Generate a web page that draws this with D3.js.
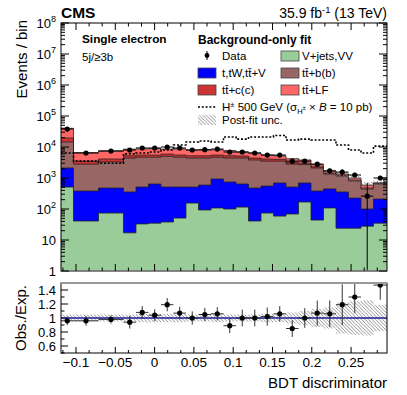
<!DOCTYPE html>
<html lang="en">
<head>
<meta charset="utf-8" />
<script src="https://cdn.jsdelivr.net/npm/d3@7"></script>
<style>
    body { margin: 0; background: #fff; }
    text { font-family: "Liberation Sans", Arial, Helvetica, sans-serif; fill: #000; }
</style>
</head>
<body>
<script>
    // bin edges (BDT discriminator), 24 bins, first few merged
    var edges = [-0.1191, -0.1032, -0.0714, -0.0396, -0.0237, -0.0078, 0.0081, 0.0240, 0.0399, 0.0559,
                 0.0718, 0.0877, 0.1036, 0.1195, 0.1354, 0.1513, 0.1672, 0.1831, 0.1990, 0.2149,
                 0.2308, 0.2467, 0.2626, 0.2785, 0.2957];

    // post-fit backgrounds, events per bin
    var vjets  = [510, 41, 74, 17, 33, 35, 38, 51, 155, 93, 108, 100, 115, 41, 74, 59, 69, 168, 44, 108, 24, 24, 28, 35];
    var single = [1590, 339, 401, 338, 477, 605, 472, 459, 355, 497, 822, 645, 525, 434, 476, 631, 441, 522, 336, 337, 331, 201, 72, 175];
    var ttbb   = [12400, 2420, 2825, 4045, 4190, 4060, 4490, 4190, 3890, 3810, 3770, 3655, 3760, 3325, 2950, 2810, 2290, 2010, 1720, 895, 795, 575, 340, 430];
    var ttcc   = [5000, 700, 800, 800, 800, 800, 900, 800, 800, 800, 800, 800, 700, 600, 600, 500, 400, 300, 200, 110, 80, 60, 40, 30];
    var ttlf   = [20500, 3100, 3400, 3300, 3200, 3400, 2600, 3200, 2800, 2700, 2600, 2500, 1800, 2000, 1400, 1200, 1000, 800, 400, 200, 120, 140, 110, 30];

    var dataObs = [38000, 6400, 7400, 8000, 9300, 9300, 10000, 9300, 8000, 8200, 8600, 6900, 6900, 6400, 5500, 5500, 3500, 3500, 2800, 1700, 1550, 1250, 260, 1000];
    var ratioObs = [0.96, 0.96, 0.98, 0.94, 1.08, 1.04, 1.19, 1.07, 1.0, 1.05, 1.06, 0.89, 1.0, 1.0, 1.02, 1.06, 0.85, 1.0, 1.07, 1.06, 1.19, 1.30, 0.44, 1.47];
    var ratioErr = [0.06, 0.07, 0.06, 0.09, 0.09, 0.085, 0.095, 0.09, 0.095, 0.095, 0.095, 0.105, 0.12, 0.12, 0.13, 0.11, 0.12, 0.14, 0.18, 0.19, 0.29, 0.23, 0.73, 0.21];
    var postFitUnc = [0.05, 0.05, 0.05, 0.05, 0.06, 0.06, 0.06, 0.06, 0.05, 0.05, 0.06, 0.05, 0.05, 0.05, 0.06, 0.06, 0.08, 0.10, 0.13, 0.15, 0.22, 0.24, 0.25, 0.19];

    // H+ 500 GeV signal
    var hplus = [6400, 3500, 3000, 6000, 6400, 6900, 8000, 11600, 14500, 15600, 14500, 21000, 18000, 21000, 21000, 23500, 16800, 18000, 16800, 16800, 11600, 8000, 6400, 10700];

    var xTicks = [-0.1, -0.05, 0, 0.05, 0.1, 0.15, 0.2, 0.25];
    var xTickLabels = ["\u22120.1", "\u22120.05", "0", "0.05", "0.1", "0.15", "0.2", "0.25"];
    var yExps = [0, 1, 2, 3, 4, 5, 6, 7, 8];
    var rTicks = [0.6, 0.8, 1, 1.2, 1.4];
    var rTickLabels = ["0.6", "0.8", "1", "1.2", "1.4"];

    var L = 61, R = 387, T = 23, B = 271, RT = 283, RB = 353;

    var svg = d3.select("body").append("svg").attr("width", 407).attr("height", 395);

    var x = d3.scaleLinear().domain([edges[0], edges[edges.length - 1]]).range([L, R]);
    var y = d3.scaleLog().domain([1, 1e8]).range([B, T]).clamp(true);
    var yr = d3.scaleLinear().domain([0.5, 1.5]).range([RB, RT]);

    var defs = svg.append("defs");
    defs.append("pattern").attr("id", "hatch").attr("patternUnits", "userSpaceOnUse")
        .attr("width", 3.5).attr("height", 3.5)
        .append("path").attr("d", "M-1,-1 L4.5,4.5 M-1,2.5 L1,4.5 M2.5,-1 L4.5,1")
        .attr("stroke", "#777").attr("stroke-width", 0.8);
    defs.append("clipPath").attr("id", "clipMain").append("rect")
        .attr("x", L).attr("y", T).attr("width", R - L).attr("height", B - T);
    defs.append("clipPath").attr("id", "clipRatio").append("rect")
        .attr("x", L).attr("y", RT).attr("width", R - L).attr("height", RB - RT);

    function steps(vals, sc) {
        var p = [];
        vals.forEach(function (v, i) {
            p.push([x(edges[i]), sc(v)]);
            p.push([x(edges[i + 1]), sc(v)]);
        });
        return p;
    }
    function band(lo, hi, sc) {
        var p = [];
        lo.forEach(function (v, i) {
            p.push({ x: x(edges[i]), a: sc(v), b: sc(hi[i]) });
            p.push({ x: x(edges[i + 1]), a: sc(v), b: sc(hi[i]) });
        });
        return p;
    }

    // ---- stack ----
    var layers = [
        { vals: vjets, color: "#99cc99" },
        { vals: single, color: "#0000ff" },
        { vals: ttbb, color: "#996666" },
        { vals: ttcc, color: "#cc3333" },
        { vals: ttlf, color: "#ff6666" }
    ];
    var run = vjets.map(function () { return 0; });
    layers.forEach(function (l) {
        run = run.map(function (r, i) { return r + l.vals[i]; });
        l.cum = run.slice();
    });
    var total = run;

    var main = svg.append("g").attr("clip-path", "url(#clipMain)");
    var area = d3.area().x(function (d) { return d[0]; }).y0(B).y1(function (d) { return d[1]; });
    var line = d3.line();
    layers.slice().reverse().forEach(function (l) {
        var pts = steps(l.cum, y);
        main.append("path").attr("d", area(pts)).attr("fill", l.color);
        main.append("path").attr("d", line(pts)).attr("fill", "none").attr("stroke", "#222").attr("stroke-width", 0.8);
    });

    // post-fit uncertainty on the stack
    var bandArea = d3.area().x(function (d) { return d.x; }).y0(function (d) { return d.a; }).y1(function (d) { return d.b; });
    main.append("path")
        .attr("d", bandArea(band(total.map(function (t, i) { return t * (1 - postFitUnc[i]); }),
                                 total.map(function (t, i) { return t * (1 + postFitUnc[i]); }), y)))
        .attr("fill", "url(#hatch)");

    // signal
    main.append("path").attr("d", line(steps(hplus, y)))
        .attr("fill", "none").attr("stroke", "#000").attr("stroke-width", 1.6).attr("stroke-dasharray", "2,1.8");

    // data
    var dg = main.append("g");
    dataObs.forEach(function (d, i) {
        var cx = x((edges[i] + edges[i + 1]) / 2);
        var rel = ratioErr[i] / ratioObs[i];
        var lo = d * (1 - rel), hi = d * (1 + rel);
        dg.append("line").attr("x1", x(edges[i])).attr("x2", x(edges[i + 1]))
            .attr("y1", y(d)).attr("y2", y(d)).attr("stroke", "#000").attr("stroke-width", 1);
        dg.append("line").attr("x1", cx).attr("x2", cx)
            .attr("y1", lo > 1 ? y(lo) : B).attr("y2", y(hi)).attr("stroke", "#000").attr("stroke-width", 1);
        dg.append("circle").attr("cx", cx).attr("cy", y(d)).attr("r", 2.6).attr("fill", "#000");
    });

    // ---- main frame and axes ----
    svg.append("rect").attr("x", L).attr("y", T).attr("width", R - L).attr("height", B - T)
        .attr("fill", "none").attr("stroke", "#000").attr("stroke-width", 1);
    svg.append("line").attr("x1", L).attr("x2", R).attr("y1", B).attr("y2", B).attr("stroke", "#888").attr("stroke-width", 1.6);

    var ax = svg.append("g").attr("stroke", "#000").attr("stroke-width", 1);
    yExps.forEach(function (e) {
        var v = Math.pow(10, e);
        ax.append("line").attr("x1", L).attr("x2", L + 8).attr("y1", y(v)).attr("y2", y(v));
        ax.append("line").attr("x1", R).attr("x2", R - 8).attr("y1", y(v)).attr("y2", y(v));
        if (e < 8) {
            for (var k = 2; k < 10; k++) {
                var yy = y(k * v);
                ax.append("line").attr("x1", L).attr("x2", L + 4).attr("y1", yy).attr("y2", yy);
                ax.append("line").attr("x1", R).attr("x2", R - 4).attr("y1", yy).attr("y2", yy);
            }
        }
        var t = svg.append("text").attr("x", L - 5).attr("y", y(v) + 5)
            .attr("text-anchor", "end").style("font-size", "13px");
        if (e === 0) t.text("1");
        else if (e === 1) t.text("10");
        else {
            t.append("tspan").text("10");
            t.append("tspan").attr("dy", -6).style("font-size", "9px").text(e);
        }
    });

    // x ticks: major 0.05, three subdivisions
    var minorStep = 0.05 / 3;
    for (var m = -7; m <= 17; m++) {
        var xv = m * minorStep;
        if (xv < edges[0] || xv > edges[edges.length - 1]) continue;
        var major = m % 3 === 0;
        var len = major ? 7 : 3.5;
        var px = x(xv);
        ax.append("line").attr("x1", px).attr("x2", px).attr("y1", B).attr("y2", B - len);
        ax.append("line").attr("x1", px).attr("x2", px).attr("y1", T).attr("y2", T + len);
        ax.append("line").attr("x1", px).attr("x2", px).attr("y1", RB).attr("y2", RB - (major ? 6 : 3));
    }

    // ---- ratio ----
    var ratio = svg.append("g").attr("clip-path", "url(#clipRatio)");
    ratio.append("path")
        .attr("d", bandArea(band(postFitUnc.map(function (u) { return 1 - u; }),
                                 postFitUnc.map(function (u) { return 1 + u; }), yr)))
        .attr("fill", "url(#hatch)");
    ratio.append("line").attr("x1", L).attr("x2", R).attr("y1", yr(1)).attr("y2", yr(1))
        .attr("stroke", "#1c1c99").attr("stroke-width", 1.4);
    ratioObs.forEach(function (r, i) {
        if (r < 0.5 || r > 1.5) return;
        var cx = x((edges[i] + edges[i + 1]) / 2);
        ratio.append("line").attr("x1", x(edges[i])).attr("x2", x(edges[i + 1]))
            .attr("y1", yr(r)).attr("y2", yr(r)).attr("stroke", "#333").attr("stroke-width", 1);
        ratio.append("line").attr("x1", cx).attr("x2", cx)
            .attr("y1", yr(r - ratioErr[i])).attr("y2", yr(r + ratioErr[i])).attr("stroke", "#333").attr("stroke-width", 1);
        ratio.append("circle").attr("cx", cx).attr("cy", yr(r)).attr("r", 2.6).attr("fill", "#000");
    });

    svg.append("rect").attr("x", L).attr("y", RT).attr("width", R - L).attr("height", RB - RT)
        .attr("fill", "none").attr("stroke", "#000").attr("stroke-width", 1);
    svg.append("line").attr("x1", L).attr("x2", R).attr("y1", RT).attr("y2", RT).attr("stroke", "#999").attr("stroke-width", 2);

    for (var rv = 0.5; rv <= 1.5001; rv += 0.1) {
        var isMaj = rTicks.some(function (t) { return Math.abs(t - rv) < 1e-6; });
        ax.append("line").attr("x1", L).attr("x2", L + (isMaj ? 7 : 3.5)).attr("y1", yr(rv)).attr("y2", yr(rv));
    }
    rTicks.forEach(function (t, i) {
        svg.append("text").attr("x", L - 5).attr("y", yr(t) + 5).attr("text-anchor", "end")
            .style("font-size", "13px").text(rTickLabels[i]);
    });
    xTicks.forEach(function (t, i) {
        svg.append("text").attr("x", x(t)).attr("y", RB + 14).attr("text-anchor", "middle")
            .style("font-size", "13.5px").text(xTickLabels[i]);
    });

    // ---- titles ----
    svg.append("text").attr("x", R).attr("y", 388).attr("text-anchor", "end")
        .style("font-size", "15px").text("BDT discriminator");
    svg.append("text").attr("transform", "translate(27,20)rotate(-90)").attr("text-anchor", "end")
        .style("font-size", "15px").text("Events / bin");
    svg.append("text").attr("transform", "translate(26,318)rotate(-90)").attr("text-anchor", "middle")
        .style("font-size", "15px").text("Obs./Exp.");
    svg.append("text").attr("x", L).attr("y", 18).style("font-size", "15.5px").style("font-weight", "bold").text("CMS");
    var lumi = svg.append("text").attr("x", R).attr("y", 18).attr("text-anchor", "end").style("font-size", "14px");
    lumi.append("tspan").text("35.9 fb");
    lumi.append("tspan").attr("dy", -5).style("font-size", "9.5px").text("-1");
    lumi.append("tspan").attr("dy", 5).text(" (13 TeV)");

    svg.append("text").attr("x", 82).attr("y", 43).style("font-size", "11.8px").style("font-weight", "bold").text("Single electron");
    svg.append("text").attr("x", 82).attr("y", 61).style("font-size", "11.5px").text("5j/\u22653b");

    // ---- legend ----
    var lg = svg.append("g");
    lg.append("text").attr("x", 198).attr("y", 44).style("font-size", "12px").style("font-weight", "bold").text("Background-only fit");
    function lgText(xx, yy, s) {
        return lg.append("text").attr("x", xx).attr("y", yy).style("font-size", "11.5px").text(s);
    }
    function lgBox(xx, yy, fill) {
        lg.append("rect").attr("x", xx).attr("y", yy).attr("width", 18).attr("height", 10)
            .attr("fill", fill).attr("stroke", "#444").attr("stroke-width", 0.8);
    }
    lg.append("line").attr("x1", 207).attr("x2", 207).attr("y1", 51).attr("y2", 60).attr("stroke", "#000");
    lg.append("circle").attr("cx", 207).attr("cy", 55.5).attr("r", 2.4).attr("fill", "#000");
    lgText(222, 60, "Data");
    lgBox(281, 51, "#99cc99"); lgText(302, 60, "V+jets,VV");
    lgBox(198, 68, "#0000ff"); lgText(222, 77, "t,tW,tt\u0304+V");
    lgBox(281, 68, "#996666"); lgText(302, 77, "tt\u0304+b(b)");
    lgBox(198, 85, "#cc3333"); lgText(222, 94, "tt\u0304+c(c)");
    lgBox(281, 85, "#ff6666"); lgText(302, 94, "tt\u0304+LF");
    lg.append("line").attr("x1", 198).attr("x2", 217).attr("y1", 107).attr("y2", 107)
        .attr("stroke", "#000").attr("stroke-width", 1.6).attr("stroke-dasharray", "2,1.8");
    var hl = lgText(222, 111, "");
    hl.append("tspan").text("H");
    hl.append("tspan").attr("dy", -4.5).style("font-size", "7.5px").text("\u00b1");
    hl.append("tspan").attr("dy", 4.5).text(" 500 GeV (\u03c3");
    hl.append("tspan").attr("dy", 3).style("font-size", "7.5px").text("H");
    hl.append("tspan").attr("dy", -4.5).style("font-size", "6px").text("\u00b1");
    hl.append("tspan").attr("dy", 1.5).text(" \u00d7 ");
    hl.append("tspan").style("font-style", "italic").text("B");
    hl.append("tspan").text(" = 10 pb)");
    lg.append("rect").attr("x", 198).attr("y", 115).attr("width", 18).attr("height", 10).attr("fill", "url(#hatch)");
    lgText(222, 124, "Post-fit unc.");
</script>
</body>
</html>
